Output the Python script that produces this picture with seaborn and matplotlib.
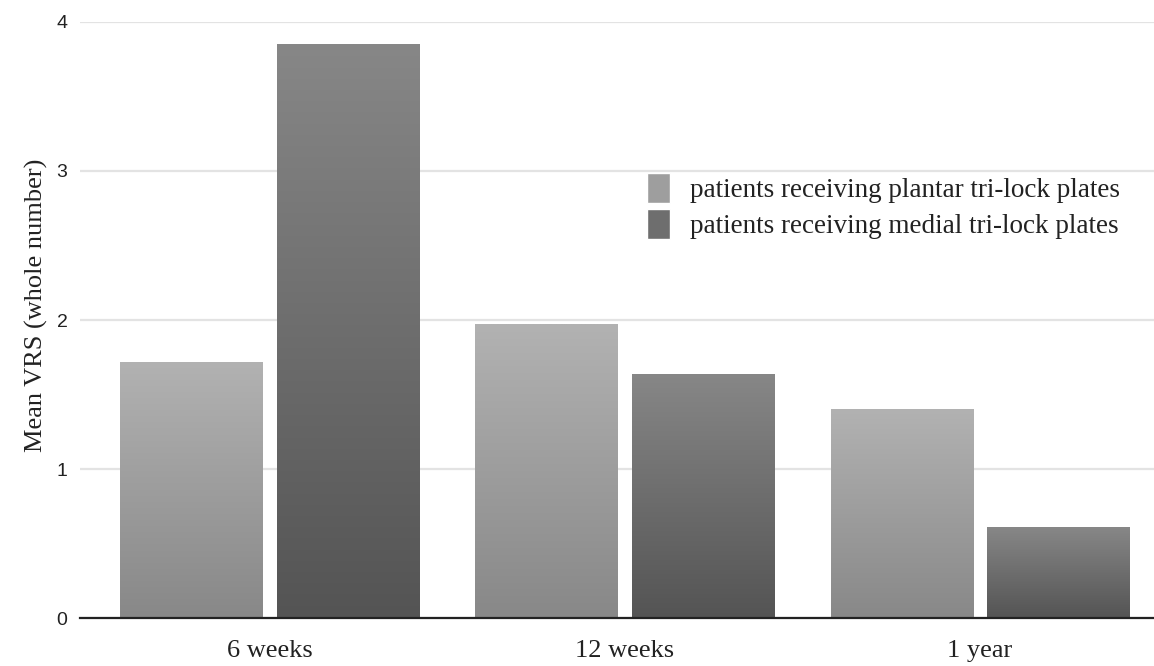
import matplotlib
matplotlib.use("Agg")
import matplotlib.pyplot as plt
import matplotlib.colors as mcolors
import numpy as np
import pandas as pd
import seaborn as sns

# Data
periods = ["6 weeks", "12 weeks", "1 year"]
plantar = [1.72, 1.97, 1.40]
medial = [3.85, 1.64, 0.61]
series_names = ["patients receiving plantar tri-lock plates",
                "patients receiving medial tri-lock plates"]

df = pd.DataFrame({
    "Period": periods * 2,
    "VRS": plantar + medial,
    "Group": [series_names[0]] * 3 + [series_names[1]] * 3,
})

# top / bottom colours of the gradient for each series
grad_colors = [("#b2b2b2", "#888888"), ("#878787", "#545454")]
mid_colors = ["#9e9e9e", "#6e6e6e"]

sns.set_style("white")
plt.rcParams["font.family"] = ["Liberation Serif", "DejaVu Serif"]

fig = plt.figure(figsize=(11.54, 6.66), dpi=100)
ax = fig.add_axes([0.0693, 0.072, 0.9307, 0.895])

sns.barplot(data=df, x="Period", y="VRS", hue="Group", palette=mid_colors,
            width=0.884, gap=0.095, ax=ax, legend=True, zorder=2)

xlim = (-0.535, 2.49)
ylim = (0, 4)

# vertical gradient fill clipped to each bar
for container, (top, bottom) in zip(ax.containers, grad_colors):
    cmap = mcolors.LinearSegmentedColormap.from_list("g", [bottom, top])
    for bar in container:
        x0 = bar.get_x()
        w = bar.get_width()
        h = bar.get_height()
        grad = np.linspace(0, 1, 256).reshape(-1, 1)
        im = ax.imshow(grad, cmap=cmap, aspect="auto", origin="lower",
                       extent=[x0, x0 + w, 0, h], zorder=3)
        im.set_clip_path(bar)
        bar.set_edgecolor("none")

ax.set_xlim(*xlim)
ax.set_ylim(*ylim)
ax.set_yticks([0, 1, 2, 3, 4])
ax.yaxis.grid(True, color="#e3e3e3", linewidth=1.6)
ax.set_axisbelow(True)
for s in ["top", "right", "left"]:
    ax.spines[s].set_visible(False)
ax.spines["bottom"].set_color("#222222")
ax.spines["bottom"].set_linewidth(1.6)
ax.spines["bottom"].set_zorder(5)

ax.tick_params(axis="both", length=0)
ax.tick_params(axis="x", labelsize=19, pad=16, labelcolor="#222222")
for lab in ax.get_yticklabels():
    lab.set_family(["Liberation Sans", "DejaVu Sans"])
    lab.set_fontsize(14)
ax.tick_params(axis="y", pad=9, labelcolor="#222222")

ax.set_xlabel("")
ax.set_ylabel("Mean VRS (whole number)", fontsize=19, color="#222222", labelpad=6)
ax.yaxis.label.set_y(0.525)

handles, labels = ax.get_legend_handles_labels()
ax.legend(handles, labels, loc="upper left", bbox_to_anchor=(0.528, 0.747),
          frameon=False, fontsize=19.5, handlelength=0.85, handleheight=1.35,
          handletextpad=0.72, labelspacing=0.2, borderpad=0, borderaxespad=0,
          labelcolor="#222222")

fig.savefig("out.png", dpi=100)
